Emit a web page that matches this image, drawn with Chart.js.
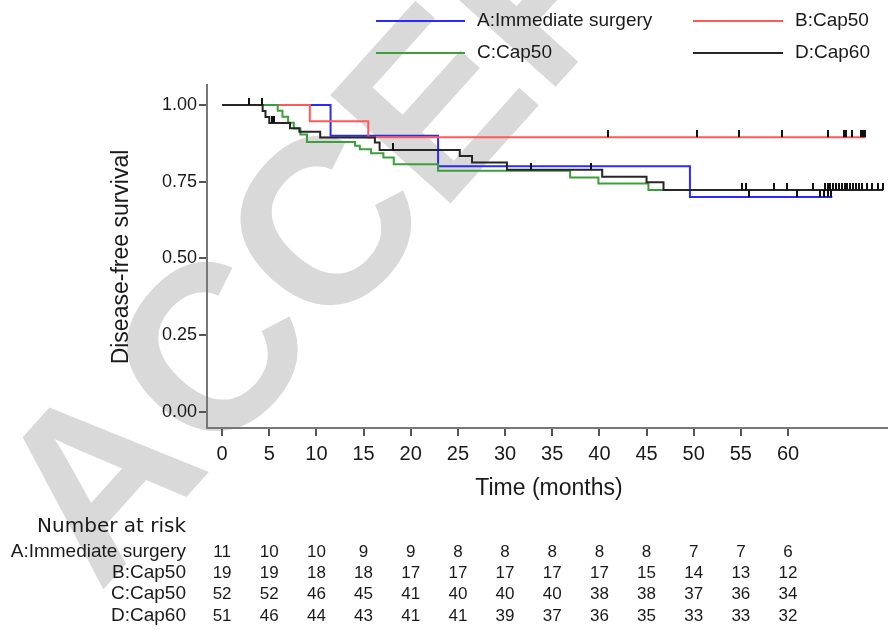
<!DOCTYPE html>
<html><head><meta charset="utf-8">
<script src="https://cdn.jsdelivr.net/npm/chart.js@4.4.1/dist/chart.umd.min.js"></script>
<style>html,body{margin:0;padding:0;background:#fff;}#wrap{width:888px;height:630px;position:relative;}</style>
</head><body><div id="wrap"><canvas id="c" width="888" height="630"></canvas></div>
<script>
// ---- data ----
const seriesNames = ['A:Immediate surgery', 'B:Cap50', 'C:Cap50', 'D:Cap60'];
const seriesColors = ['#2a2aff', '#ff5a5a', '#3c9f3c', '#262626'];

const timesA = [0, 11.5, 22.9, 49.6, 64.7];
const survA  = [1, 0.9, 0.8, 0.7, 0.7];
const censA_t = [55.9, 61.0, 63.4, 63.8, 64.2, 64.6];
const censA_s = [0.7, 0.7, 0.7, 0.7, 0.7, 0.7];

const timesB = [0, 9.3, 15.5, 68.2];
const survB  = [1, 0.947, 0.895, 0.895];
const censB_t = [40.9, 50.3, 54.8, 59.4, 64.2, 65.9, 66.2, 66.8, 67.7, 68.0, 68.2];
const censB_s = [0.895, 0.895, 0.895, 0.895, 0.895, 0.895, 0.895, 0.895, 0.895, 0.895, 0.895];

const timesC = [0, 5.9, 6.4, 7.0, 7.6, 8.3, 9.0, 14.1, 14.6, 15.8, 17.1, 18.2, 22.9, 36.9, 39.9, 45.2, 64.5];
const survC  = [1, 0.981, 0.962, 0.942, 0.923, 0.904, 0.879, 0.867, 0.856, 0.843, 0.829, 0.807, 0.786, 0.764, 0.744, 0.723, 0.723];

const timesD = [0, 4.3, 4.6, 5.0, 7.2, 8.2, 10.4, 16.2, 16.7, 25.2, 26.5, 30.2, 40.3, 45.0, 46.8, 70.1];
const survD  = [1, 0.98, 0.961, 0.941, 0.924, 0.913, 0.894, 0.878, 0.853, 0.834, 0.813, 0.789, 0.766, 0.748, 0.723, 0.723];
const censD_t = [2.9, 4.2, 5.3, 5.5, 18.1, 32.8, 39.1, 55.1, 55.5, 58.5, 59.9, 62.7,
                 63.9, 64.2, 64.5, 64.8, 65.1, 65.4, 65.7, 66.0, 66.3, 66.6, 66.9, 67.2, 67.5, 67.8, 68.4, 68.9, 69.5, 70.1];
const censD_s = [1, 1, 0.941, 0.941, 0.853, 0.789, 0.789, 0.723, 0.723, 0.723, 0.723, 0.723,
                 0.723, 0.723, 0.723, 0.723, 0.723, 0.723, 0.723, 0.723, 0.723, 0.723, 0.723, 0.723, 0.723, 0.723, 0.723, 0.723, 0.723, 0.723];

const xTicks = [0, 5, 10, 15, 20, 25, 30, 35, 40, 45, 50, 55, 60];
const yTicks = [0, 0.25, 0.5, 0.75, 1];
const riskTimes = [0, 5, 10, 15, 20, 25, 30, 35, 40, 45, 50, 55, 60];
const riskA = [11, 10, 10, 9, 9, 8, 8, 8, 8, 8, 7, 7, 6];
const riskB = [19, 19, 18, 18, 17, 17, 17, 17, 17, 15, 14, 13, 12];
const riskC = [52, 52, 46, 45, 41, 40, 40, 40, 38, 38, 37, 36, 34];
const riskD = [51, 46, 44, 43, 41, 41, 39, 37, 36, 35, 33, 33, 32];

// ---- helpers ----
const pts = (t, s) => t.map((v, i) => ({x: v, y: s[i]}));
function makeTick() {
  const c = document.createElement('canvas');
  c.width = 2; c.height = 14;
  const g = c.getContext('2d');
  g.fillStyle = '#111';
  g.fillRect(0, 0, 2, 7);
  return c;
}
const tickImg = makeTick();
const FONT = '"Liberation Sans", Arial, sans-serif';
const WIDE = '"DejaVu Sans", Verdana, sans-serif';

function curve(idx, t, s, order) {
  return {label: seriesNames[idx], data: pts(t, s), showLine: true, stepped: true,
    borderColor: seriesColors[idx], borderWidth: 2, pointRadius: 0, fill: false, order: order};
}
function cens(t, s) {
  return {label: 'censor', data: pts(t, s), showLine: false, pointStyle: tickImg,
    pointRadius: 3, order: 0};
}

const textPlugin = {
  id: 'texts',
  beforeDraw(chart) {
    const ctx = chart.ctx;
    ctx.save();
    ctx.fillStyle = '#d9d9d9';
    ctx.font = 'bold 235px ' + FONT;
    ctx.translate(335, 235);
    ctx.rotate(-48 * Math.PI / 180);
    ctx.textBaseline = 'middle';
    ctx.textAlign = 'left';
    ctx.fillText('ACCEPTED MANUSCRIPT', -424, 0);
    ctx.restore();
  },
  afterDraw(chart) {
    const ctx = chart.ctx;
    const xs = chart.scales.x;
    ctx.save();
    ctx.fillStyle = '#1a1a1a';
    // legend
    const leg = [[376, 465, 477, 21], [693, 783, 795, 21], [376, 465, 477, 53], [693, 783, 795, 53]];
    ctx.font = '19px ' + FONT;
    ctx.textBaseline = 'middle';
    ctx.textAlign = 'left';
    leg.forEach((L, i) => {
      ctx.strokeStyle = seriesColors[i];
      ctx.lineWidth = 2;
      ctx.beginPath(); ctx.moveTo(L[0], L[3]); ctx.lineTo(L[1], L[3]); ctx.stroke();
      ctx.fillText(seriesNames[i], L[2], L[3]);
    });
    // axis titles
    ctx.font = '23px ' + FONT;
    ctx.textAlign = 'center';
    ctx.fillText('Time (months)', 549, 489);
    ctx.save();
    ctx.translate(122, 257);
    ctx.rotate(-Math.PI / 2);
    ctx.fillText('Disease-free survival', 0, 0);
    ctx.restore();
    // risk table
    ctx.font = '20px ' + WIDE;
    ctx.textAlign = 'right';
    ctx.fillText('Number at risk', 186, 527);
    const rows = [riskA, riskB, riskC, riskD];
    const ry = [552, 573, 594, 616];
    rows.forEach((r, i) => {
      ctx.font = '19px ' + FONT;
      ctx.textAlign = 'right';
      ctx.fillText(seriesNames[i], 186, ry[i]);
      ctx.font = '17px ' + FONT;
      ctx.textAlign = 'center';
      r.forEach((v, j) => ctx.fillText(String(v), xs.getPixelForValue(riskTimes[j]), ry[i]));
    });
    ctx.restore();
  }
};

new Chart(document.getElementById('c'), {
  type: 'scatter',
  data: {datasets: [
    cens(censD_t, censD_s), cens(censA_t, censA_s), cens(censB_t, censB_s),
    curve(3, timesD, survD, 1),
    curve(2, timesC, survC, 2),
    curve(1, timesB, survB, 3),
    curve(0, timesA, survA, 4)
  ]},
  options: {
    responsive: false, animation: false,
    layout: {autoPadding: false, padding: {top: 85, left: 0, right: 0, bottom: 0}},
    plugins: {legend: {display: false}, tooltip: {enabled: false}},
    scales: {
      x: {type: 'linear', min: -1.6, max: 70.6,
        afterBuildTicks: s => { s.ticks = xTicks.map(v => ({value: v})); },
        afterFit: s => { s.height = 202; },
        grid: {drawOnChartArea: false, tickLength: 8, color: '#555', lineWidth: 2},
        border: {color: '#777', width: 2},
        ticks: {color: '#1a1a1a', font: {family: FONT, size: 20}, padding: 6, maxRotation: 0,
          callback: v => String(v)}
      },
      y: {type: 'linear', min: -0.052, max: 1.065,
        afterBuildTicks: s => { s.ticks = yTicks.map(v => ({value: v})); },
        afterFit: s => { s.width = 207; },
        grid: {drawOnChartArea: false, tickLength: 8, color: '#555', lineWidth: 2},
        border: {color: '#777', width: 2},
        ticks: {color: '#1a1a1a', font: {family: FONT, size: 18}, padding: 2,
          callback: v => Number(v).toFixed(2)}
      }
    }
  },
  plugins: [textPlugin]
});
</script></body></html>
